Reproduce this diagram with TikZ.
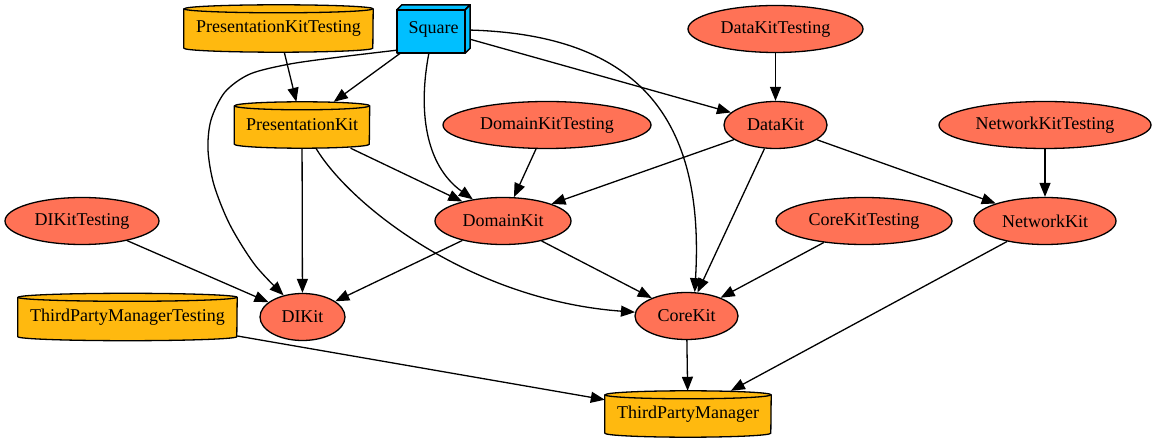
\documentclass[tikz,border=0pt]{standalone}
\usepackage{fontspec}
\setmainfont{Liberation Serif}
\usetikzlibrary{shapes.geometric,arrows.meta,backgrounds}
\definecolor{coralfill}{HTML}{FF7256}
\definecolor{goldfill}{HTML}{FFB90F}
\definecolor{skyfill}{HTML}{00BFFF}
\tikzset{
  lbl/.style={font=\fontsize{18}{21}\selectfont, text=black},
  ell/.style={lbl, ellipse, draw=black, fill=coralfill, line width=1.3pt, inner sep=0pt, minimum height=47pt},
  cyl/.style={lbl, rectangle, inner sep=0pt},
  cylbody/.style={fill=goldfill, draw=black, line width=1.3pt, line join=round},
  sqbody/.style={fill=skyfill, draw=black, line width=1.5pt, line join=round},
  edge/.style={draw=black, line width=1.3pt, -{Triangle[length=14pt,width=11pt]}},
}
\newcommand\drawcyl[3]{%
  \filldraw[cylbody] ([yshift=-#3]#1.north west) -- ([yshift=#3]#1.south west)
    arc[start angle=180,end angle=360,x radius=#2,y radius=#3]
    -- ([yshift=-#3]#1.north east)
    arc[start angle=0,end angle=180,x radius=#2,y radius=#3] -- cycle;
  \draw[cylbody,fill=none] ([yshift=-#3]#1.north west)
    arc[start angle=180,end angle=360,x radius=#2,y radius=#3];}
\begin{document}
\begin{tikzpicture}[x=1pt,y=-1pt]
\useasboundingbox (0,0) rectangle (1156,443);
% row 1
\node[cyl, minimum width=189pt, minimum height=47pt] (PKT) at (278.5,28.5) {PresentationKitTesting};
\node[lbl, rectangle, inner sep=0pt, minimum width=73pt, minimum height=48pt] (Square) at (433.5,29) {Square};
\node[ell, minimum width=175pt] (DKT) at (775.5,29) {DataKitTesting};
% row 2
\node[cyl, minimum width=135pt, minimum height=46pt] (PK) at (302,125) {PresentationKit};
\node[ell, minimum width=208pt] (DoKT) at (547,125) {DomainKitTesting};
\node[ell, minimum width=103pt] (DK) at (775.5,125) {DataKit};
\node[ell, minimum width=212pt] (NKT) at (1045,125) {NetworkKitTesting};
% row 3
\node[ell, minimum width=154pt] (DIKT) at (82,221) {DIKitTesting};
\node[ell, minimum width=136pt] (DoK) at (503,221) {DomainKit};
\node[ell, minimum width=176pt] (CKT) at (864,221) {CoreKitTesting};
\node[ell, minimum width=142pt] (NK) at (1045,221) {NetworkKit};
% row 4
\node[cyl, minimum width=219pt, minimum height=47pt] (TPMT) at (127.5,317) {ThirdPartyManagerTesting};
\node[ell, minimum width=85pt] (DIK) at (302.5,317) {DIKit};
\node[ell, minimum width=103pt] (CK) at (686.5,316) {CoreKit};
% row 5
\node[cyl, minimum width=166pt, minimum height=46pt] (TPM) at (688,414) {ThirdPartyManager};

\begin{scope}[on background layer]
  \fill[white] (0,0) rectangle (1156,443);
  \drawcyl{PKT}{94.5pt}{4pt}
  \drawcyl{PK}{67.5pt}{4pt}
  \drawcyl{TPMT}{109.5pt}{4pt}
  \drawcyl{TPM}{83pt}{4pt}
  \filldraw[sqbody] ([yshift=-5pt]Square.north west) rectangle ([xshift=-5pt]Square.south east);
  \filldraw[sqbody] ([yshift=-5pt]Square.north west) -- ([xshift=5pt]Square.north west)
     -- (Square.north east) -- ([xshift=-5pt,yshift=-5pt]Square.north east) -- cycle;
  \filldraw[sqbody] ([xshift=-5pt,yshift=-5pt]Square.north east) -- (Square.north east)
     -- ([yshift=5pt]Square.south east) -- ([xshift=-5pt]Square.south east) -- cycle;
\end{scope}

% edges
\draw[edge] (PKT) -- (PK);
\draw[edge] (Square) -- (PK);
\draw[edge] plot[smooth] coordinates {(Square.210) (340,57) (290,64) (250,74) (225,92) (211,120) (208,150) (214,185) (230,225) (255,265) (DIK.131)};
\draw[edge] (Square) .. controls (418,110) and (425,165) .. (DoK);
\draw[edge] (Square) -- (DK);
\draw[edge] (Square) .. controls (640,35) and (705,120) .. (CK.71);
\draw[edge] (DKT) -- (DK);
\draw[edge] (PK) -- (DoK);
\draw[edge] (PK) -- (DIK);
\draw[edge] (PK) .. controls (350,205) and (470,300) .. (CK);
\draw[edge] (DoKT) -- (DoK);
\draw[edge] (DK) -- (DoK);
\draw[edge] (DK) -- (CK);
\draw[edge] (DK) -- (NK);
\draw[edge] (NKT) -- (NK);
\draw[edge] (DIKT) -- (DIK);
\draw[edge] (DoK) -- (DIK);
\draw[edge] (DoK) -- (CK);
\draw[edge] (CKT) -- (CK);
\draw[edge] (NK) -- (TPM);
\draw[edge] (TPMT) -- (TPM);
\draw[edge] (CK) -- (TPM);
\end{tikzpicture}
\end{document}
